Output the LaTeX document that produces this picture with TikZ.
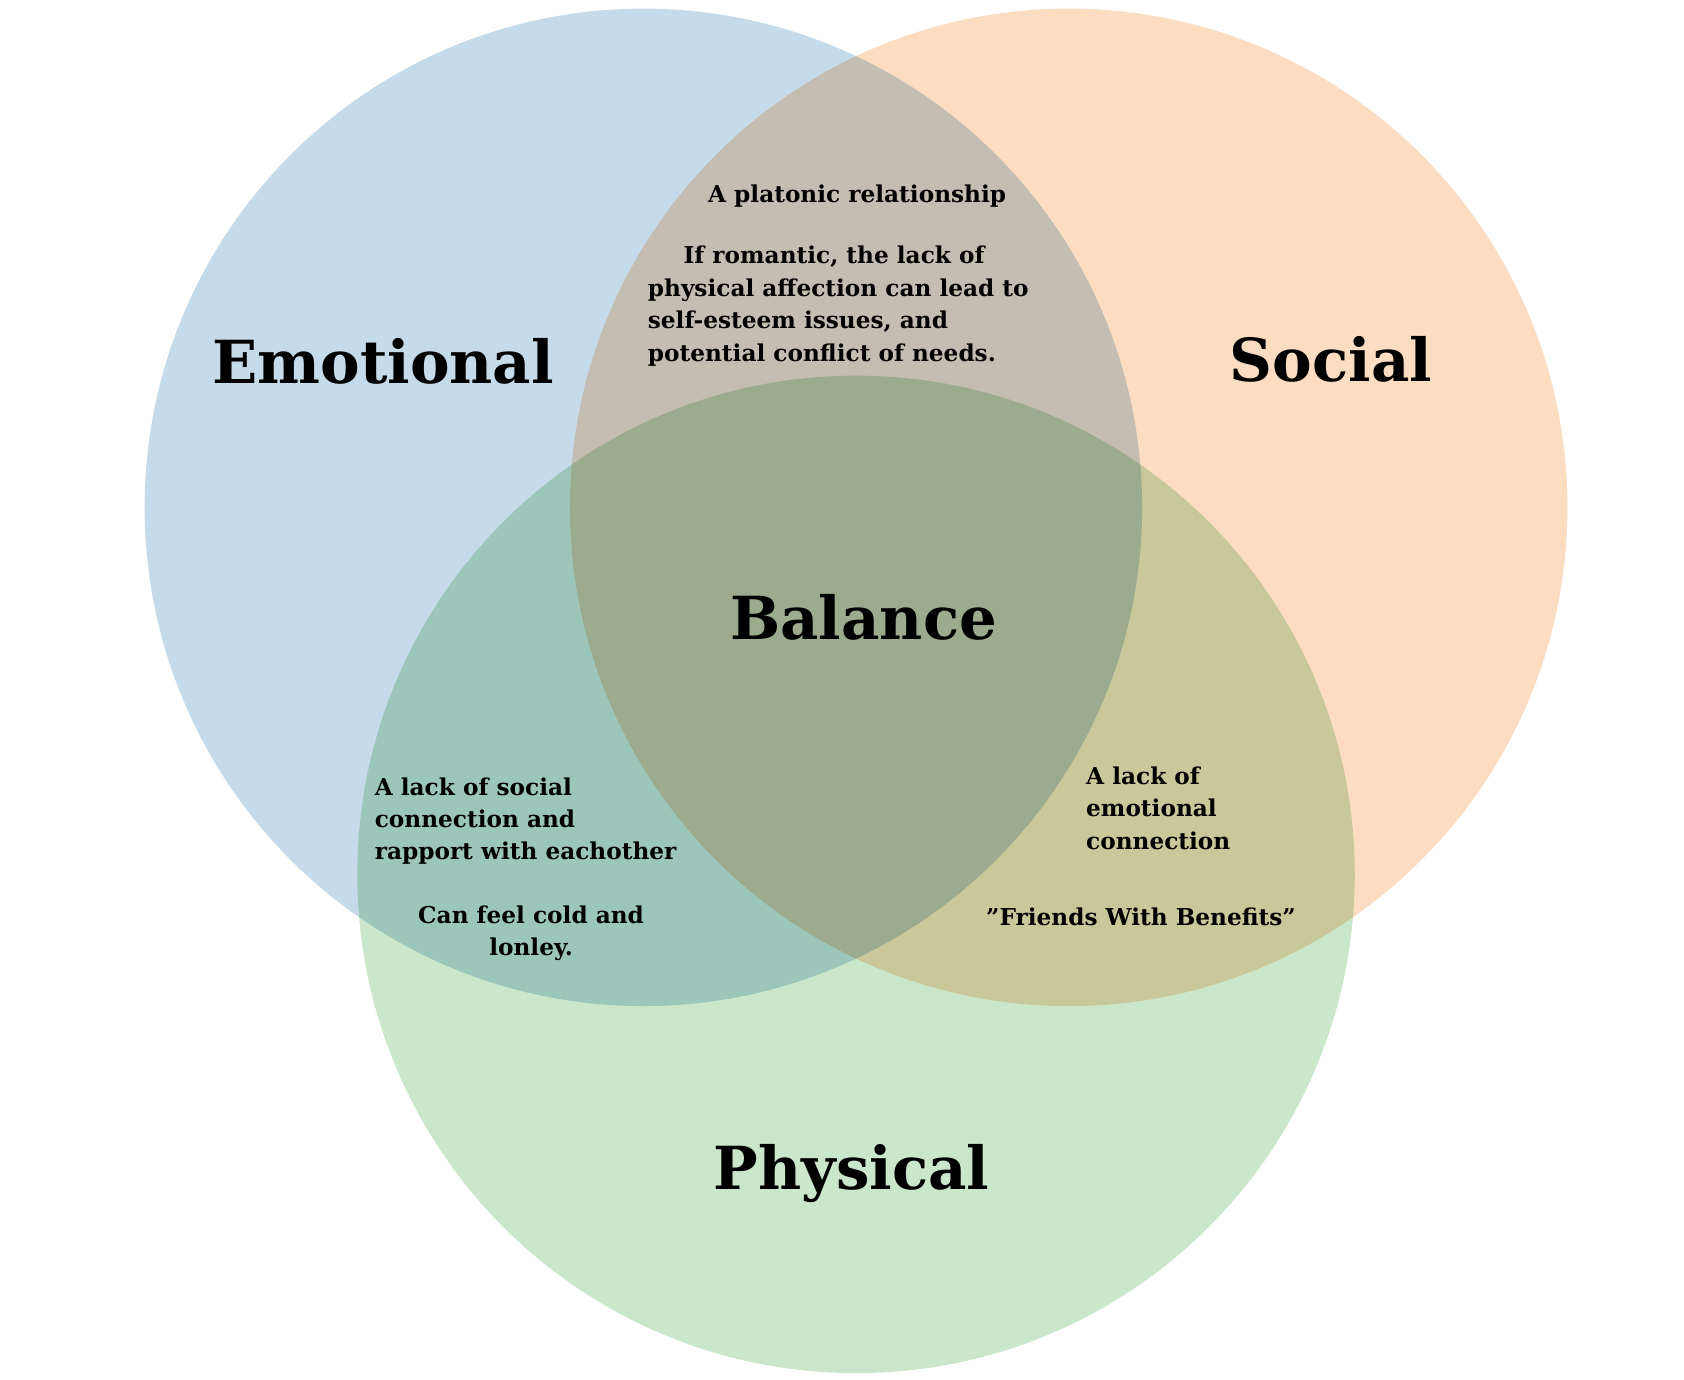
\documentclass[tikz,border=0pt]{standalone}
\usepackage{fontspec}
\setmainfont{DejaVu Serif}
\begin{document}
\begin{tikzpicture}[x=1pt,y=-1pt,
  circ/.style={draw=none},
  big/.style={font=\fontsize{55}{60}\selectfont\bfseries},
  small/.style={font=\fontsize{21.5}{30}\selectfont\bfseries,inner sep=0pt}]
\useasboundingbox (0,0) rectangle (1560,1278);
\fill[white] (0,0) rectangle (1560,1278);
\definecolor{cblue}{HTML}{C6DBEA}
\definecolor{corange}{HTML}{FDDDC2}
\definecolor{cgreen}{HTML}{CBE7CB}
\begin{scope}[blend group=multiply]
\fill[circ,cblue] (596,470) circle (462);
\fill[circ,corange] (990,470) circle (462);
\fill[circ,cgreen] (793,810) circle (462);
\end{scope}
\node[big] (emo) at (355,335) {Emotional};
\node[big] (soc) at (1233,333) {Social};
\node[big] (bal) at (800,572) {Balance};
\node[big] (phy) at (789,1087) {Physical};
\node[small,anchor=base] (t1) at (794,188) {A platonic relationship};
\node[small,anchor=north west,align=left] (t2) at (600,228) {\hspace*{33pt}If romantic, the lack of\\physical affection can lead to\\self-esteem issues, and\\potential conflict of needs.};
\node[small,anchor=north west,align=left] (l1) at (347,720) {A lack of social\\connection and\\rapport with eachother};
\node[small,anchor=north,align=center] (l2) at (492,839) {Can feel cold and\\lonley.};
\node[small,anchor=north west,align=left] (r1) at (1006,710) {A lack of\\emotional\\connection};
\node[small,anchor=base] (r2) at (1057,857) {"Friends With Benefits"};
\end{tikzpicture}
\end{document}
